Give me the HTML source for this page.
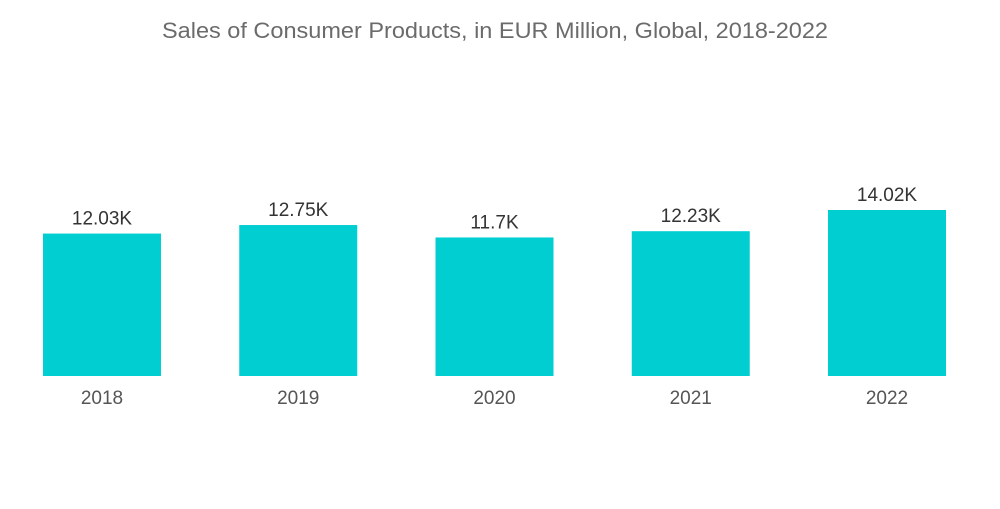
<!DOCTYPE html>
<html><head><meta charset="utf-8"><style>
body{margin:0;background:#fff;width:1000px;height:504px;overflow:hidden;font-family:"Liberation Sans",sans-serif}
</style></head><body>
<svg id="chart" width="1000" height="504" xmlns="http://www.w3.org/2000/svg">
<text x="162" y="38" textLength="666" lengthAdjust="spacingAndGlyphs" font-size="22" fill="#6b6b6b" font-family="Liberation Sans, sans-serif">Sales of Consumer Products, in EUR Million, Global, 2018-2022</text>
<g id="bars"></g>
</svg>
<script>
const categories=["2018","2019","2020","2021","2022"];
const values=[12.03,12.75,11.7,12.23,14.02];
const valueLabels=["12.03K","12.75K","11.7K","12.23K","14.02K"];
const baseY=376, scale=11.84, firstX=43, step=196.25, barW=118;
const yPos=v=>baseY-v*scale;
const xPos=i=>firstX+i*step;
const g=document.getElementById('bars');
const ns="http://www.w3.org/2000/svg";
categories.forEach((c,i)=>{
  const r=document.createElementNS(ns,'rect');
  
  
  r.setAttribute('x',xPos(i));r.setAttribute('y',yPos(values[i]));
  r.setAttribute('width',barW);r.setAttribute('height',baseY-yPos(values[i]));
  r.setAttribute('fill','#00CED1');g.appendChild(r);
  const t=document.createElementNS(ns,'text');
  
  
  t.setAttribute('x',xPos(i)+barW/2);t.setAttribute('y',yPos(values[i])-9);
  t.setAttribute('text-anchor','middle');t.setAttribute('font-size','19');t.setAttribute('fill','#333');
  t.textContent=valueLabels[i];g.appendChild(t);
  const l=document.createElementNS(ns,'text');
  
  
  l.setAttribute('x',xPos(i)+barW/2);l.setAttribute('y',404);
  l.setAttribute('text-anchor','middle');l.setAttribute('font-size','19');l.setAttribute('fill','#555');
  l.textContent=c;g.appendChild(l);
});
</script>
</body></html>
